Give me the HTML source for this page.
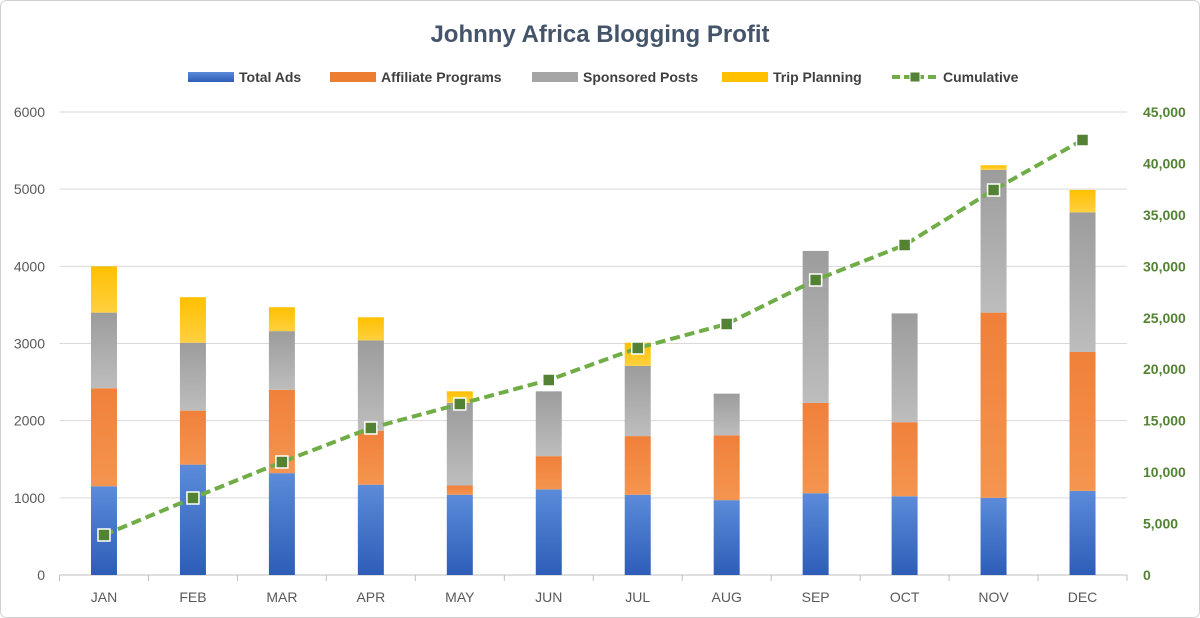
<!DOCTYPE html>
<html><head><meta charset="utf-8"><style>
html,body{margin:0;padding:0;background:#fff;}
svg{display:block;font-family:"Liberation Sans",sans-serif;}
</style></head><body>
<svg width="1200" height="618" viewBox="0 0 1200 618" xmlns="http://www.w3.org/2000/svg">
<defs>
<linearGradient id="gb" x1="0" y1="0" x2="0" y2="1"><stop offset="0" stop-color="#5B8BD9"/><stop offset="1" stop-color="#2E5DB8"/></linearGradient>
<linearGradient id="go" x1="0" y1="0" x2="0" y2="1"><stop offset="0" stop-color="#F0803A"/><stop offset="1" stop-color="#F4954F"/></linearGradient>
<linearGradient id="gg" x1="0" y1="0" x2="0" y2="1"><stop offset="0" stop-color="#9C9C9C"/><stop offset="1" stop-color="#BDBDBD"/></linearGradient>
<linearGradient id="gy" x1="0" y1="0" x2="0" y2="1"><stop offset="0" stop-color="#FFC000"/><stop offset="1" stop-color="#FFD040"/></linearGradient>
</defs>
<rect x="0.5" y="0.5" width="1199" height="617" rx="6" fill="#fff" stroke="#D0D0D0"/>
<text x="600" y="42" text-anchor="middle" font-size="24" font-weight="bold" fill="#44546A">Johnny Africa Blogging Profit</text>
<g font-size="14" fill="#404040" font-weight="bold">
<rect x="188" y="72" width="46" height="10" fill="url(#gb)"/><text x="239" y="82">Total Ads</text>
<rect x="330" y="72" width="46" height="10" fill="#ED7D31"/><text x="381" y="82">Affiliate Programs</text>
<rect x="532" y="72" width="46" height="10" fill="#A5A5A5"/><text x="583" y="82">Sponsored Posts</text>
<rect x="722" y="72" width="46" height="10" fill="#FFC000"/><text x="773" y="82">Trip Planning</text>
<line x1="892" y1="77" x2="938" y2="77" stroke="#70AD47" stroke-width="4" stroke-dasharray="8,4"/>
<rect x="910" y="72" width="10" height="10" fill="#548235" stroke="#fff" stroke-width="1"/>
<text x="943" y="82">Cumulative</text>
</g>
<g id="grid" stroke="#D9D9D9" stroke-width="1"></g>
<g id="bars"></g>
<g id="labels" font-size="14"></g>
<g id="line"></g>
<script>
var ns="http://www.w3.org/2000/svg";
function el(p,t,a,txt){var e=document.createElementNS(ns,t);for(var k in a)e.setAttribute(k,a[k]);if(txt!==undefined)e.textContent=txt;document.getElementById(p).appendChild(e);return e;}
var L=59.5,R=1127,T=112,B=575,H=B-T,step=(R-L)/12;
function yl(v){return B-v/6000*H;}function yr(v){return B-v/45000*H;}
for(var i=0;i<=6;i++){var y=yl(i*1000);if(i>0)el("grid","line",{x1:L,x2:R,y1:y,y2:y});
el("labels","text",{x:45,y:y+5,"text-anchor":"end",fill:"#595959"},i*1000);}
for(var i=0;i<=9;i++){var y=yr(i*5000);
el("labels","text",{x:1143,y:y+5,fill:"#548235","font-weight":"bold"},(i*5000).toLocaleString("en-US"));}
el("grid","line",{x1:L,x2:R,y1:B,y2:B,stroke:"#BFBFBF"});
for(var i=0;i<=12;i++){var x=L+i*step;el("grid","line",{x1:x,x2:x,y1:B,y2:B+6,stroke:"#BFBFBF"});}
var m=["JAN","FEB","MAR","APR","MAY","JUN","JUL","AUG","SEP","OCT","NOV","DEC"];
var d=[[1150,2420,3400,4000],[1430,2130,3010,3600],[1320,2400,3160,3470],[1170,1870,3040,3340],[1040,1160,2230,2380],[1110,1540,2380,2380],[1040,1800,2710,3010],[970,1810,2350,2350],[1060,2230,4200,4200],[1020,1980,3390,3390],[1000,3400,5250,5310],[1090,2890,4700,4990]];
var cum=[3888,7484,10983,14287,16620,18952,22063,24395,28672,32073,37419,42279];
var fills=["url(#gb)","url(#go)","url(#gg)","url(#gy)"];
var pts=[];
for(var i=0;i<12;i++){var cx=L+step*(i+0.5);var prev=0;
for(var j=0;j<4;j++){var v=d[i][j];if(v>prev){el("bars","rect",{x:cx-13,y:yl(v),width:26,height:yl(prev)-yl(v),fill:fills[j]});}prev=v;}
el("labels","text",{x:cx,y:602,"text-anchor":"middle",fill:"#595959"},m[i]);
pts.push(cx+","+yr(cum[i]));}
el("line","polyline",{points:pts.join(" "),fill:"none",stroke:"#70AD47","stroke-width":4,"stroke-dasharray":"10,5","stroke-linejoin":"round"});
for(var i=0;i<12;i++){var p=pts[i].split(",");el("line","rect",{x:+p[0]-6,y:+p[1]-6,width:12,height:12,fill:"#548235",stroke:"#fff","stroke-width":1.5});}
</script>
</svg>
</body></html>
